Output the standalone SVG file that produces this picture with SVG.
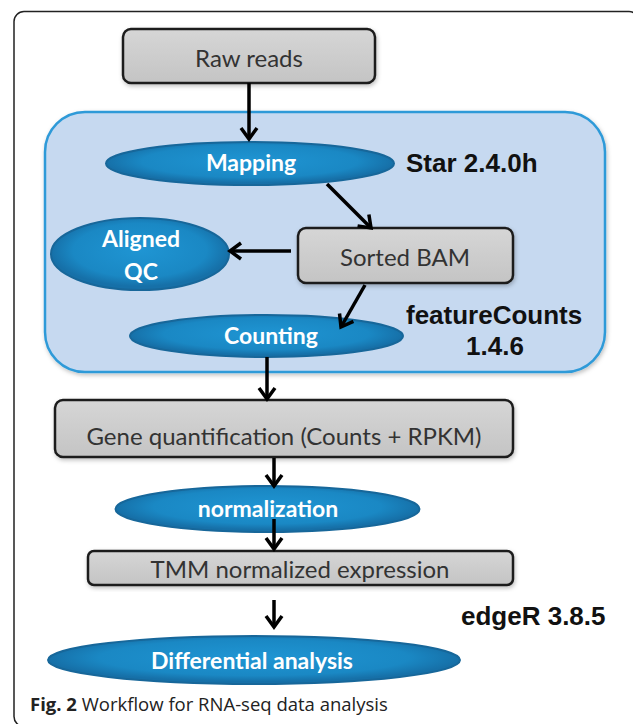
<svg xmlns="http://www.w3.org/2000/svg" width="633" height="724" viewBox="0 0 633 724">
<style>
.box{fill:url(#gray);stroke:#1e1e1e;stroke-width:2.5;filter:url(#sh)}
.ell{fill:url(#blue);stroke:#17679a;stroke-width:2}
.bt{font-family:Lato,"Open Sans","Liberation Sans",sans-serif;font-size:24px;fill:#333;text-anchor:middle}
.et{font-family:Lato,"Open Sans","Liberation Sans",sans-serif;font-weight:bold;font-size:23px;fill:#fff;text-anchor:middle}
.tool{font-family:"Liberation Sans",Arial,sans-serif;font-weight:bold;font-size:26px;fill:#111}
.arr{stroke:#000;stroke-width:3.5;fill:none;marker-end:url(#ah)}
.cap{font-family:"Open Sans","Liberation Sans",sans-serif;font-size:18.5px;fill:#222}
</style>
<defs>
<linearGradient id="gray" x1="0" y1="0" x2="0" y2="1">
<stop offset="0" stop-color="#d6d6d6"/>
<stop offset="1" stop-color="#c4c4c4"/>
</linearGradient>
<radialGradient id="blue" cx="0.5" cy="0.45" r="0.5">
<stop offset="0" stop-color="#1f95d3"/>
<stop offset="0.75" stop-color="#1a88c4"/>
<stop offset="1" stop-color="#1670a8"/>
</radialGradient>
<filter id="sh" x="-10%" y="-10%" width="120%" height="130%">
<feDropShadow dx="1" dy="2" stdDeviation="2" flood-color="#000" flood-opacity="0.25"/>
</filter>
<marker id="ah" markerUnits="userSpaceOnUse" markerWidth="24" markerHeight="24" refX="13" refY="10" orient="auto">
<path d="M2,2 L13,10 L2,18" fill="none" stroke="#000" stroke-width="3.5" stroke-linejoin="miter"/>
</marker>
</defs>

<rect id="frame" x="14" y="11.5" width="625" height="715" rx="10" fill="#fff" stroke="#222" stroke-width="1.5"/>

<g id="container">
<rect x="45" y="112" width="560" height="260" rx="40" fill="#c6d9f0" stroke="#2f9ad8" stroke-width="2.5" filter="url(#sh)"/>
</g>

<g id="raw-reads">
<rect class="box" x="123" y="29" width="252" height="54" rx="8"/>
<text class="bt" x="249" y="67">Raw reads</text>
</g>

<g id="mapping">
<ellipse class="ell" cx="250" cy="163.5" rx="144" ry="21.5"/>
<text class="et" x="251" y="171">Mapping</text>
</g>
<text id="star" class="tool" x="406" y="172">Star 2.4.0h</text>

<g id="sorted-bam">
<rect class="box" x="298" y="228" width="215" height="55" rx="8"/>
<text class="bt" x="405" y="266">Sorted BAM</text>
</g>

<g id="aligned-qc">
<ellipse class="ell" cx="140" cy="254" rx="89" ry="36"/>
<text class="et" x="141" y="247">Aligned</text>
<text class="et" x="141" y="280">QC</text>
</g>

<g id="counting">
<ellipse class="ell" cx="266.5" cy="336" rx="136.5" ry="21"/>
<text class="et" x="271" y="344">Counting</text>
</g>
<g id="featurecounts">
<text class="tool" x="406" y="324">featureCounts</text>
<text class="tool" x="495" y="355" text-anchor="middle">1.4.6</text>
</g>

<g id="gene-quant">
<rect class="box" x="55" y="400" width="458" height="57" rx="8"/>
<text class="bt" x="284" y="445">Gene quantification (Counts + RPKM)</text>
</g>

<g id="normalization">
<ellipse class="ell" cx="267.5" cy="509" rx="152" ry="23"/>
<text class="et" x="268" y="517">normalization</text>
</g>

<g id="tmm">
<rect class="box" x="88" y="551" width="425" height="34" rx="6"/>
<text class="bt" x="300" y="578">TMM normalized expression</text>
</g>

<g id="differential">
<ellipse class="ell" cx="254" cy="660" rx="206" ry="24"/>
<text class="et" x="252" y="669">Differential analysis</text>
</g>
<text id="edger" class="tool" x="461" y="625" font-size="25">edgeR 3.8.5</text>

<g id="connectors">
<line class="arr" x1="249" y1="83" x2="249" y2="139"/>
<line class="arr" x1="327" y1="184" x2="371" y2="228"/>
<line class="arr" x1="291" y1="251" x2="230" y2="251"/>
<line class="arr" x1="365" y1="285" x2="341" y2="327"/>
<line class="arr" x1="267" y1="357" x2="267" y2="399"/>
<line class="arr" x1="274" y1="458" x2="274" y2="486"/>
<line class="arr" x1="274" y1="519" x2="274" y2="549"/>
<line class="arr" x1="274" y1="600" x2="274" y2="627"/>
</g>

<text class="cap" x="30" y="711"><tspan font-weight="bold">Fig. 2</tspan> Workflow for RNA-seq data analysis</text>
</svg>
